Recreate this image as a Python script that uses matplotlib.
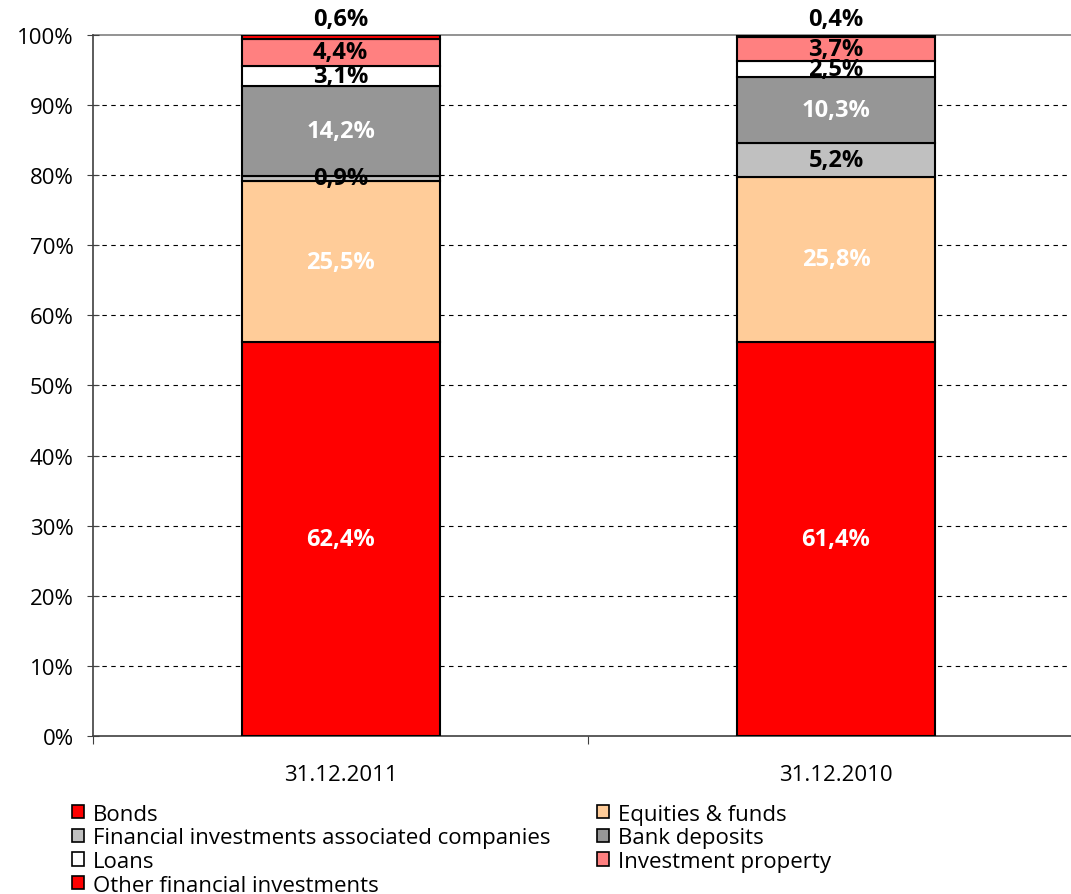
import numpy as np
import matplotlib.pyplot as plt
from matplotlib.patches import Patch

plt.rcParams['font.family'] = ['Open Sans', 'DejaVu Sans']

# data (labels as printed, bars are 100% stacked)
dates = ['31.12.2011', '31.12.2010']
series = ['Bonds', 'Equities & funds', 'Financial investments associated companies',
          'Bank deposits', 'Loans', 'Investment property', 'Other financial investments']
values = [
    [62.4, 61.4],
    [25.5, 25.8],
    [0.9, 5.2],
    [14.2, 10.3],
    [3.1, 2.5],
    [4.4, 3.7],
    [0.6, 0.4],
]
colors = ['#ff0000', '#ffcc99', '#c0c0c0', '#969696', '#ffffff', '#ff8080', '#ff0000']
label_colors = ['white', 'white', 'black', 'white', 'black', 'black', 'black']

vals = np.array(values)
share = vals / vals.sum(axis=0) * 100

fig = plt.figure(figsize=(10.71, 8.95), dpi=100)
ax = fig.add_axes([0.0868, 0.1765, 0.925, 0.7835])

x = np.arange(len(dates))
bottom = np.zeros(len(dates))
for i, name in enumerate(series):
    ax.bar(x, share[i], 0.4, bottom=bottom, color=colors[i], edgecolor='black',
           linewidth=1.5, label=name, zorder=3)
    for j in range(len(dates)):
        txt = ('%.1f%%' % vals[i, j]).replace('.', ',')
        if i == len(series) - 1:
            y = 102.2
        else:
            y = bottom[j] + share[i, j] / 2
        ax.text(x[j], y, txt, ha='center', va='center', fontsize=17, fontweight='bold',
                color=label_colors[i], zorder=4, clip_on=False)
    bottom += share[i]

ax.set_xlim(-0.5, 1.5)
ax.set_ylim(0, 100)
ax.set_yticks(np.arange(0, 101, 10))
ax.set_yticklabels(['%d%%' % v for v in range(0, 101, 10)], fontsize=16)
ax.set_xticks([-0.5, 0.5, 1.5])
ax.set_xticklabels([])
ax.set_xticks(x, minor=True)
ax.set_xticklabels(dates, minor=True, fontsize=16)
ax.tick_params(axis='x', which='minor', length=0, pad=20)
ax.tick_params(axis='x', which='major', length=6, direction='out', color='#404040')
ax.tick_params(axis='y', length=8, direction='inout', color='#404040', pad=10)

for yv in range(10, 100, 10):
    ax.axhline(yv, color='black', linestyle=(0, (4, 4)), linewidth=0.8, zorder=1)
ax.axhline(100, color='#808080', linewidth=1.2, zorder=1, clip_on=False)

ax.spines['top'].set_visible(False)
ax.spines['right'].set_visible(False)
ax.spines['left'].set_color('#404040')
ax.spines['bottom'].set_color('#404040')
ax.spines['left'].set_linewidth(1.2)
ax.spines['bottom'].set_linewidth(1.2)

handles = [Patch(facecolor=c, edgecolor='black', linewidth=1.2) for c in colors]
order = [0, 2, 4, 6, 1, 3, 5]
leg = fig.legend([handles[k] for k in order], [series[k] for k in order], ncol=2,
                 loc='upper left', bbox_to_anchor=(0.0672, 0.101), frameon=False,
                 fontsize=16, handlelength=0.55, handleheight=0.55, handletextpad=0.4,
                 labelspacing=0.12, columnspacing=2.1, borderaxespad=0, borderpad=0)

fig.savefig('out.png', dpi=100)
